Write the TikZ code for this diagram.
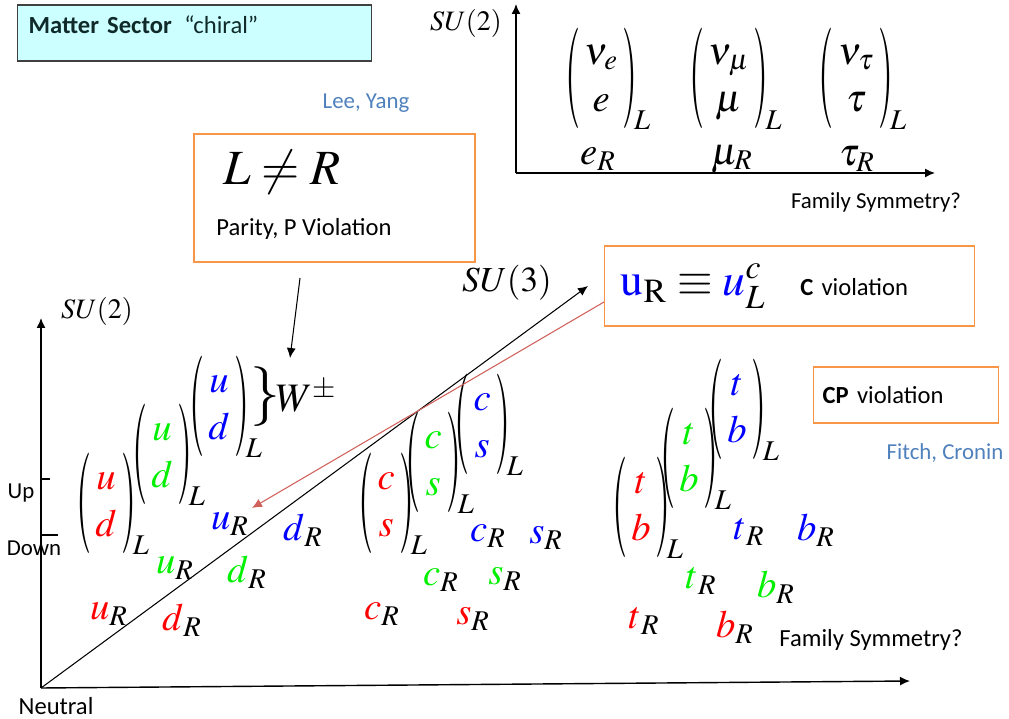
\documentclass[tikz,border=0pt]{standalone}
\usepackage{amsmath}
\usepackage{mathptmx}
\usepackage[no-math]{fontspec}
\setmainfont{Carlito}
\usetikzlibrary{arrows.meta, positioning}
\definecolor{smCyan}{HTML}{CCFFFF}
\definecolor{smEdge}{HTML}{404040}
\definecolor{smInk}{HTML}{102A2A}
\definecolor{smOrange}{HTML}{F79646}
\definecolor{smNote}{HTML}{4F81BD}
\definecolor{smArrowRed}{HTML}{D0605A}
\definecolor{qRed}{HTML}{FF0000}
\definecolor{qGreen}{HTML}{00F000}
\definecolor{qBlue}{HTML}{0000FF}
\newcommand{\tallparen}[1]{\vcenter{\hbox{\scalebox{1}[2.6]{$#1$}}}}
\newcommand{\qpair}[3]{$\tallparen{(}\begin{array}{@{\,}c@{\,}}\color{#1}#2\\ \color{#1}#3\end{array}\tallparen{)}_{\!L}$}
\newcommand{\rhq}[2]{${\color{#1}#2}_R$}
\tikzset{
  matterbox/.style={rectangle, draw=smEdge, line width=0.8pt, fill=smCyan,
    anchor=west, minimum height=1.12cm, inner xsep=0.22cm, text width=6.64cm,
    text depth=0.32cm, align=left, text=smInk, font=\fontsize{14}{16}\selectfont},
  orangebox/.style={rectangle, draw=smOrange, line width=0.8pt, inner sep=0pt},
  textbox/.style={rectangle, draw=smOrange, line width=0.8pt, anchor=west,
    align=left, font=\fontsize{14}{16}\selectfont},
  boxtext/.style={inner sep=0pt, font=\fontsize{14}{16}\selectfont},
  plain/.style={inner sep=0pt, font=\fontsize{13}{15}\selectfont},
  note/.style={inner sep=0pt, text=smNote, font=\fontsize{13}{15}\selectfont},
  sumath/.style={inner sep=0pt, font=\fontsize{16}{18}\selectfont},
  bigmath/.style={inner sep=0pt, font=\fontsize{28}{30}\selectfont},
  pair/.style={inner sep=0pt, font=\fontsize{22}{27}\selectfont},
  rhand/.style={inner sep=0pt, font=\fontsize{22}{26}\selectfont},
  axisarrow/.style={-{Latex[length=2mm, width=1.8mm]}, line width=0.8pt},
  thinarrow/.style={-{Latex[length=2mm, width=1.8mm]}, line width=0.6pt},
  redarrow/.style={-{Latex[length=2mm, width=1.8mm]}, line width=0.6pt, smArrowRed}
}
\begin{document}
\begin{tikzpicture}[x=0.02cm, y=-0.02cm]
\useasboundingbox (0,0) rectangle (1009,719);

% headline and the parity box
\node[matterbox] (matter) at (17,33) {\textbf{Matter Sector}\hspace{0.25cm}“chiral”};
\node[note] (leeyang) at (366,103) {Lee, Yang};
\node[orangebox, minimum width=5.62cm, minimum height=2.56cm] (lrbox) at (334.5,198) {};
\node[bigmath] (lneqr) at (282,172) {$L\neq R$};
\node[boxtext] (parity) at (304,229) {Parity, P Violation};

% leptons
\coordinate (lo) at (516,173);
\coordinate (ltop) at (516,4);
\coordinate (lend) at (935,173);
\draw[axisarrow] (lo) -- (ltop);
\draw[axisarrow] (lo) -- (lend);
\node[sumath] (lsu2) at (466,23) {$SU(2)$};
\node[plain] (lfam) at (876,202) {Family Symmetry?};
\node[pair] (lpe) at (608,79) {\qpair{black}{\nu_e}{e}};
\node[pair] (lpmu) at (736,79) {\qpair{black}{\nu_\mu}{\mu}};
\node[pair] (lptau) at (863,79) {\qpair{black}{\nu_\tau}{\tau}};
\node[rhand] (eR) at (598,159) {$e_R$};
\node[rhand] (muR) at (732,159) {$\mu_R$};
\node[rhand] (tauR) at (857,159) {$\tau_R$};

% quark axes
\coordinate (qo) at (41,688);
\coordinate (qtop) at (41,318);
\coordinate (qend) at (910,681);
\coordinate (su3tip) at (588,286);
\draw[axisarrow] (qo) -- (qtop);
\draw[axisarrow] (qo) -- (qend);
\draw[thinarrow] (qo) -- (su3tip);
\draw[line width=0.8pt] (41,479) -- (50,479);
\draw[line width=0.8pt] (41,535) -- (58,535);
\node[sumath] (qsu2) at (97,311) {$SU(2)$};
\node[sumath, font=\fontsize{20}{22}\selectfont] (qsu3) at (507,283) {$SU(3)$};
\node[plain] (up) at (21,493) {Up};
\node[plain] (down) at (34,548) {Down};
\node[boxtext] (neutral) at (56,706) {Neutral};
\node[boxtext] (qfam) at (871,640) {Family Symmetry?};

% first family
\node[pair] (udr) at (113,504) {\qpair{qRed}{u}{d}};
\node[pair] (udg) at (169,455) {\qpair{qGreen}{u}{d}};
\node[pair] (udb) at (226,407) {\qpair{qBlue}{u}{d}};
\node[inner sep=0pt, font=\fontsize{34}{34}\selectfont] (wbrace) at (265,397) {$\}$};
\node[inner sep=0pt, font=\fontsize{23}{25}\selectfont] (wpm) at (306,396) {$W^{\pm}$};
\node[rhand] (uRb) at (230,524) {\rhq{qBlue}{u}};
\node[rhand] (dRb) at (303,530) {\rhq{qBlue}{d}};
\node[rhand] (uRg) at (175,568) {\rhq{qGreen}{u}};
\node[rhand] (dRg) at (247,572) {\rhq{qGreen}{d}};
\node[rhand] (uRr) at (109,614) {\rhq{qRed}{u}};
\node[rhand] (dRr) at (182,620) {\rhq{qRed}{d}};

% second family
\node[pair] (csr) at (393,504) {\qpair{qRed}{c}{s}};
\node[pair] (csg) at (440,463) {\qpair{qGreen}{c}{s}};
\node[pair] (csb) at (489,425) {\qpair{qBlue}{c}{s}};
\node[rhand] (cRb) at (488,536) {\rhq{qBlue}{c}};
\node[rhand] (sRb) at (546,538) {\rhq{qBlue}{s}};
\node[rhand] (cRg) at (441,580) {\rhq{qGreen}{c}};
\node[rhand] (sRg) at (505,579) {\rhq{qGreen}{s}};
\node[rhand] (cRr) at (382,614) {\rhq{qRed}{c}};
\node[rhand] (sRr) at (473,619) {\rhq{qRed}{s}};

% third family
\node[pair] (tbr) at (648,508) {\qpair{qRed}{t}{b}};
\node[pair] (tbg) at (696,459) {\qpair{qGreen}{t}{b}};
\node[pair] (tbb) at (744,410) {\qpair{qBlue}{t}{b}};
\node[rhand] (tRb) at (749,532) {\rhq{qBlue}{t}};
\node[rhand] (bRb) at (816,530) {\rhq{qBlue}{b}};
\node[rhand] (tRg) at (701,581) {\rhq{qGreen}{t}};
\node[rhand] (bRg) at (776,587) {\rhq{qGreen}{b}};
\node[rhand] (tRr) at (644,621) {\rhq{qRed}{t}};
\node[rhand] (bRr) at (735,627) {\rhq{qRed}{b}};

% C and CP boxes
\node[textbox, minimum width=7.4cm, minimum height=1.6cm, inner xsep=0.32cm, text width=6.76cm]
  (ubox) at (604,286) {{\fontsize{26}{28}\selectfont$\color{qBlue}\mathrm{u}\color{black}_{\mathrm{R}}\equiv{\color{qBlue}u}^{c}_{L}$}\hspace{0.7cm}\textbf{C} violation};
\node[textbox, minimum width=3.7cm, minimum height=1.12cm, inner xsep=0.18cm, text width=3.34cm]
  (cpbox) at (813,395) {\textbf{CP} violation};
\node[note] (fitch) at (945,453) {Fitch, Cronin};

% pointers
\coordinate (wtail) at (300,278);
\coordinate (wtip) at (290,358);
\draw[thinarrow] (wtail) -- (wtip);
\coordinate (urtip) at (252,508);
\draw[redarrow] ([shift={(0,16)}]ubox.west) -- (urtip);
\end{tikzpicture}
\end{document}
